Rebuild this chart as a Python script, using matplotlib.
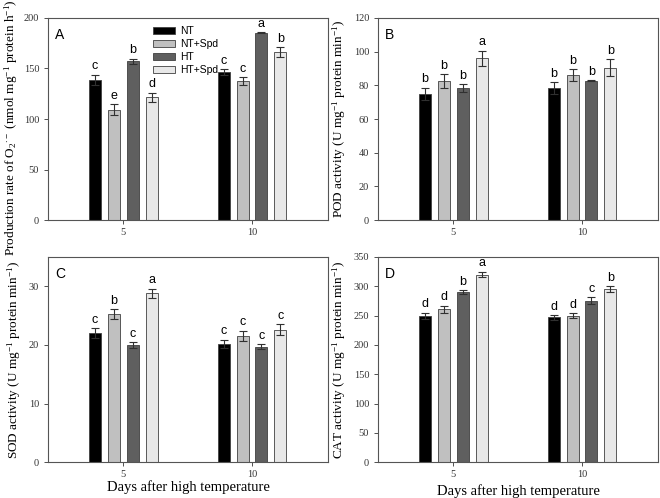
import numpy as np
import matplotlib
matplotlib.use("Agg")
import matplotlib.pyplot as plt

plt.rcParams['mathtext.fontset'] = 'custom'
plt.rcParams['mathtext.rm'] = 'Liberation Serif'
plt.rcParams['mathtext.it'] = 'Liberation Serif:italic'

# data
days = ['5', '10']
treatments = ['NT', 'NT+Spd', 'HT', 'HT+Spd']
colors = ['#000000', '#c0c0c0', '#5f5f5f', '#e8e8e8']

o2_mean = [[139, 109, 157, 121.5], [146.5, 137.5, 185.5, 166]]
o2_err = [[5, 5.5, 2.5, 4.5], [3, 4, 0.5, 5]]
o2_let = [['c', 'e', 'b', 'd'], ['c', 'c', 'a', 'b']]

pod_mean = [[75, 82.5, 78.3, 96], [78.2, 86, 82.6, 90.5]]
pod_err = [[3.6, 4, 2.4, 4.6], [3.6, 3.6, 0.3, 5]]
pod_let = [['b', 'b', 'b', 'a'], ['b', 'b', 'b', 'b']]

sod_mean = [[22, 25.3, 20, 28.8], [20.2, 21.5, 19.7, 22.6]]
sod_err = [[0.8, 0.8, 0.5, 0.8], [0.7, 0.9, 0.4, 0.9]]
sod_let = [['c', 'b', 'c', 'a'], ['c', 'c', 'c', 'c']]

cat_mean = [[250, 261, 290, 320], [247, 250, 275, 295]]
cat_err = [[5, 6, 3, 5], [4, 4, 6, 5]]
cat_let = [['d', 'd', 'b', 'a'], ['d', 'd', 'c', 'b']]

fig = plt.figure(figsize=(6.6, 4.98), dpi=100)

panels = [
    ('A', [0.073, 0.558, 0.424, 0.406], o2_mean, o2_err, o2_let, 200, 50,
     'Production rate of O$_2$$^{\\cdot -}$ (nmol mg$^{-1}$ protein h$^{-1}$)', None),
    ('B', [0.573, 0.558, 0.424, 0.406], pod_mean, pod_err, pod_let, 120, 20,
     'POD activity (U mg$^{-1}$ protein min$^{-1}$)', None),
    ('C', [0.073, 0.072, 0.424, 0.412], sod_mean, sod_err, sod_let, 35, 10,
     'SOD activity (U mg$^{-1}$ protein min$^{-1}$)', -0.09),
    ('D', [0.573, 0.072, 0.424, 0.412], cat_mean, cat_err, cat_let, 350, 50,
     'CAT activity (U mg$^{-1}$ protein min$^{-1}$)', -0.11),
]

x = np.arange(len(days))
w = 0.093
step = 0.147
offsets = (np.arange(4) - 1.5) * step

for name, pos, mean, err, lets, ymax, ystep, ylab, xlab_y in panels:
    ax = fig.add_axes(pos)
    mean = np.array(mean)
    err = np.array(err)
    for j in range(4):
        ax.bar(x + offsets[j], mean[:, j], width=w, color=colors[j],
               edgecolor='#404040', linewidth=0.6, label=treatments[j])
        ax.errorbar(x + offsets[j], mean[:, j], yerr=err[:, j], fmt='none',
                    ecolor='#303030', elinewidth=0.8, capsize=3, capthick=0.8)
        for i in range(len(days)):
            ax.text(x[i] + offsets[j], mean[i, j] + err[i, j] + ymax * 0.012,
                    lets[i][j], ha='center', va='bottom', fontsize=9,
                    family='Liberation Sans')
    ax.set_xlim(-0.582, 1.59)
    ax.set_ylim(0, ymax)
    ax.set_xticks(x)
    ax.set_xticklabels(days)
    ax.set_yticks(np.arange(0, ymax + 0.1, ystep))
    for lab in ax.get_xticklabels() + ax.get_yticklabels():
        lab.set_family('Liberation Serif')
        lab.set_fontsize(7.5)
    ax.tick_params(direction='out', length=3, width=0.6, colors='#333333')
    ax.tick_params(axis='x', pad=2.5)
    for sp in ax.spines.values():
        sp.set_color('#555555')
        sp.set_linewidth(0.8)
    ax.set_ylabel(ylab, family='Liberation Serif', fontsize=9.5, labelpad=4)
    if name == 'A':
        ax.yaxis.set_label_coords(-0.1, 0.46)
    if xlab_y is not None:
        ax.set_xlabel('Days after high temperature', family='Liberation Serif',
                      fontsize=10.5)
        ax.xaxis.set_label_coords(0.5, xlab_y)
    ax.text(0.025, 0.95, name, transform=ax.transAxes, ha='left', va='top',
            fontsize=10, family='Liberation Sans')
    if name == 'A':
        ax.legend(loc='upper left', bbox_to_anchor=(0.35, 0.995), frameon=False,
                  prop={'family': 'Liberation Sans', 'size': 7.5},
                  handlelength=2.1, handleheight=0.6, labelspacing=0.28,
                  handletextpad=0.5, borderpad=0.2)

fig.savefig('out.png', dpi=100)
